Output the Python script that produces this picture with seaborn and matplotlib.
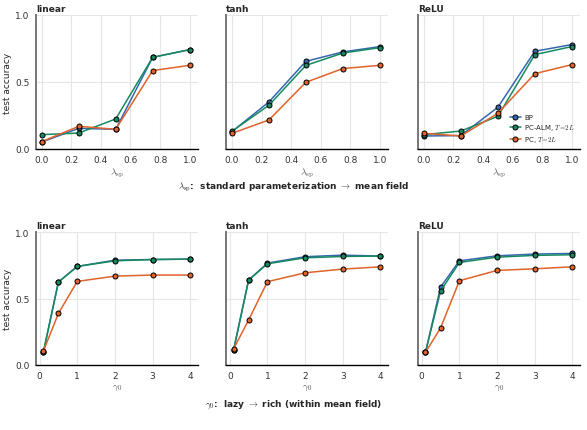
import numpy as np
import pandas as pd
import seaborn as sns
import matplotlib.pyplot as plt

# x values
lam_sp = [0.0, 0.25, 0.5, 0.75, 1.0]
gamma0 = [0.1, 0.5, 1.0, 2.0, 3.0, 4.0]

activations = ['linear', 'tanh', 'ReLU']
methods = ['BP', 'PC-ALM, $T\\!=\\!2L$', 'PC, $T\\!=\\!2L$']

# top row: accuracy vs lambda_sp
lam_bp = {'linear': [0.052, 0.154, 0.147, 0.684, 0.741],
          'tanh':   [0.129, 0.351, 0.654, 0.724, 0.764],
          'ReLU':   [0.097, 0.100, 0.311, 0.729, 0.779]}
lam_alm = {'linear': [0.107, 0.119, 0.224, 0.684, 0.741],
           'tanh':   [0.132, 0.326, 0.624, 0.716, 0.756],
           'ReLU':   [0.107, 0.134, 0.244, 0.704, 0.764]}
lam_pc = {'linear': [0.055, 0.169, 0.147, 0.585, 0.624],
          'tanh':   [0.117, 0.216, 0.498, 0.600, 0.624],
          'ReLU':   [0.117, 0.097, 0.266, 0.562, 0.629]}

# bottom row: accuracy vs gamma0
gam_bp = {'linear': [0.095, 0.624, 0.742, 0.789, 0.794, 0.797],
          'tanh':   [0.110, 0.639, 0.767, 0.815, 0.827, 0.820],
          'ReLU':   [0.095, 0.586, 0.784, 0.822, 0.835, 0.840]}
gam_alm = {'linear': [0.095, 0.624, 0.742, 0.784, 0.794, 0.797],
           'tanh':   [0.110, 0.639, 0.762, 0.807, 0.817, 0.820],
           'ReLU':   [0.095, 0.556, 0.772, 0.812, 0.825, 0.830]}
gam_pc = {'linear': [0.103, 0.388, 0.629, 0.669, 0.677, 0.677],
          'tanh':   [0.120, 0.338, 0.627, 0.694, 0.722, 0.739],
          'ReLU':   [0.095, 0.278, 0.634, 0.712, 0.724, 0.739]}

colors = ['#3467b0', '#168a5e', '#e0632a']


def to_long(x, bp, alm, pc):
    rows = []
    for act in activations:
        for m, d in zip(methods, [bp, alm, pc]):
            for xi, yi in zip(x, d[act]):
                rows.append({'act': act, 'method': m, 'x': xi, 'acc': yi})
    return pd.DataFrame(rows)


df_lam = to_long(lam_sp, lam_bp, lam_alm, lam_pc)
df_gam = to_long(gamma0, gam_bp, gam_alm, gam_pc)

sns.set_style('whitegrid')
plt.rcParams['font.family'] = ['DejaVu Sans']
plt.rcParams['mathtext.fontset'] = 'cm'

fig = plt.figure(figsize=(5.87, 4.31), dpi=100)

lefts = [0.061, 0.385, 0.712]
w = 0.276
rows = [(0.652, 0.311, df_lam, lam_sp, (-0.04, 1.055), '$\\lambda_{\\rm sp}$',
         [0.0, 0.2, 0.4, 0.6, 0.8, 1.0], ['0.0', '0.2', '0.4', '0.6', '0.8', '1.0']),
        (0.151, 0.308, df_gam, gamma0, (-0.1, 4.2), '$\\gamma_0$',
         [0, 1, 2, 3, 4], ['0', '1', '2', '3', '4'])]

for r, (bot, h, df, xs, xlim, xlab, xt, xtl) in enumerate(rows):
    for i, act in enumerate(activations):
        ax = fig.add_axes([lefts[i], bot, w, h])
        sub = df[df['act'] == act]
        sns.lineplot(data=sub, x='x', y='acc', hue='method', hue_order=methods,
                     palette=colors, marker='o', markersize=3.6,
                     markeredgecolor='black', markeredgewidth=0.7,
                     linewidth=1.1, ax=ax, legend=(r == 0 and i == 2))
        ax.set_xlim(*xlim)
        ax.set_ylim(0, 1.0)
        ax.set_xticks(xt)
        ax.set_xticklabels(xtl)
        ax.set_yticks([0, 0.5, 1.0])
        ax.grid(True, color='#e6e6e6', linewidth=0.8)
        ax.tick_params(labelsize=6.5, length=2.5, width=0.8, pad=2,
                       colors='#333333')
        if i == 0:
            ax.set_yticklabels(['0.0', '0.5', '1.0'])
            ax.set_ylabel('test accuracy', fontsize=6.5, labelpad=2)
        else:
            ax.set_yticklabels([])
            ax.set_ylabel('')
        ax.set_xlabel(xlab, fontsize=7, color='#555555', labelpad=1)
        ax.set_title(act, fontsize=6.5, fontweight='bold', loc='left', pad=3)
        for s in ['top', 'right']:
            ax.spines[s].set_visible(False)
        ax.spines['left'].set_color('#777777')
        ax.spines['left'].set_linewidth(1.4)
        ax.spines['bottom'].set_color('black')
        ax.spines['bottom'].set_linewidth(1.0)
        if r == 0 and i == 2:
            ax.legend(loc='lower right', fontsize=5.0, frameon=False,
                      handlelength=1.6, handletextpad=0.5,
                      borderaxespad=0.3, bbox_to_anchor=(1.0, 0.0),
                      labelspacing=0.3)

fig.text(0.5, 0.566,
         '$\\lambda_{\\rm sp}$:  standard parameterization $\\rightarrow$ mean field',
         ha='center', va='center', fontsize=6.5, fontweight='bold')
fig.text(0.5, 0.060,
         '$\\gamma_0$:  lazy $\\rightarrow$ rich (within mean field)',
         ha='center', va='center', fontsize=6.5, fontweight='bold')

fig.savefig('out.png', dpi=100)
